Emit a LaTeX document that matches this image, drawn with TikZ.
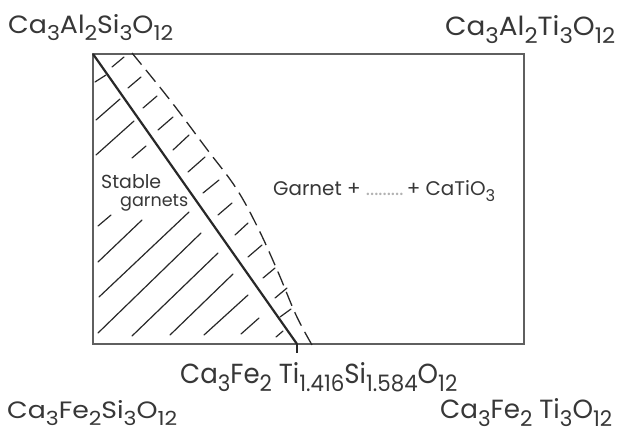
\documentclass[tikz,border=0pt]{standalone}
\usepackage{fontspec}
\setmainfont{Poppins}
\usepackage{graphicx}
\newcommand{\sbs}[1]{\raisebox{-0.32em}{\scalebox{0.82}{#1}}}
\definecolor{ink}{RGB}{40,40,40}
\definecolor{framegray}{RGB}{95,95,95}
\definecolor{txt}{RGB}{55,55,55}
\begin{document}
\begin{tikzpicture}[x=1pt,y=-1pt,
  frame/.style={draw=framegray,line width=1.2pt},
  boundary/.style={draw=ink,line width=2.2pt},
  limitline/.style={draw=ink,line width=1.3pt,dash pattern=on 15pt off 7pt},
  hatch/.style={draw=ink,line width=1.2pt,line cap=round},
  lab/.style={inner sep=0pt,anchor=base west,text=txt}]
\useasboundingbox (0,0) rectangle (617,434);
\fill[white] (0,0) rectangle (617,434);
% frame
\draw[frame] (93,54) rectangle (524,344);
% corners / coordinates
\coordinate (cAl) at (93,54);
\coordinate (cX) at (297,344);
\coordinate (cXt) at (297,353);
% labels
\node[lab] (tl) at (8,33) {\resizebox{165pt}{19pt}{Ca\sbs{3}Al\sbs{2}Si\sbs{3}O\sbs{12}}};
\node[lab] (tr) at (445,35) {\resizebox{170pt}{20pt}{Ca\sbs{3}Al\sbs{2}Ti\sbs{3}O\sbs{12}}};
\node[lab] (bl) at (7,418) {\resizebox{170pt}{18pt}{Ca\sbs{3}Fe\sbs{2}Si\sbs{3}O\sbs{12}}};
\node[lab] (br) at (440,418) {\resizebox{172pt}{20pt}{Ca\sbs{3}Fe\sbs{2} Ti\sbs{3}O\sbs{12}}};
\node[lab] (mid) at (180,383) {\resizebox{277pt}{21pt}{Ca\sbs{3}Fe\sbs{2} Ti\sbs{1.416}Si\sbs{1.584}O\sbs{12}}};
\node[lab] (st1) at (101,188) {\resizebox{60pt}{14pt}{Stable}};
\node[lab] (st2) at (120,206) {\resizebox{68pt}{!}{garnets}};
\node[lab] (gar) at (273,195) {\resizebox{222pt}{15pt}{Garnet + {\color{gray!60}.........}\,+ CaTiO\sbs{3}}};
% boundary line and tick
\draw[boundary] (cAl) -- (cX);
\draw[draw=ink,line width=1.2pt] (cX) -- (cXt);
% dashed limit curve
\draw[limitline] plot[smooth,tension=0.6] coordinates {(132,53) (170,100) (206,148) (236,188) (258,228) (278,272) (296,315) (312,345)};
% hatching left of boundary
\foreach \a/\b/\c/\d in {95/82/106/75, 96/120/120/99, 96/155/134/121, 132/158/146/146,
  98/226/111/215, 98/262/142/220, 99/297/189/212, 98/333/201/233, 132/336/218/253,
  170/335/233/274, 204/335/248/295, 241/334/259/318}
  \draw[hatch] (\a,\b) -- (\c,\d);
% ticks in band
\foreach \a/\b/\c/\d in {112/67/124/57, 128/88/141/77, 143/108/157/96, 158/130/173/117,
  173/150/189/135, 188/172/205/157, 203/193/219/180, 218/215/232/203, 235/235/248/223,
  248/257/262/245, 263/278/275/268, 275/298/287/288, 280/317/291/309, 276/337/283/331}
  \draw[hatch] (\a,\b) -- (\c,\d);
\end{tikzpicture}
\end{document}
